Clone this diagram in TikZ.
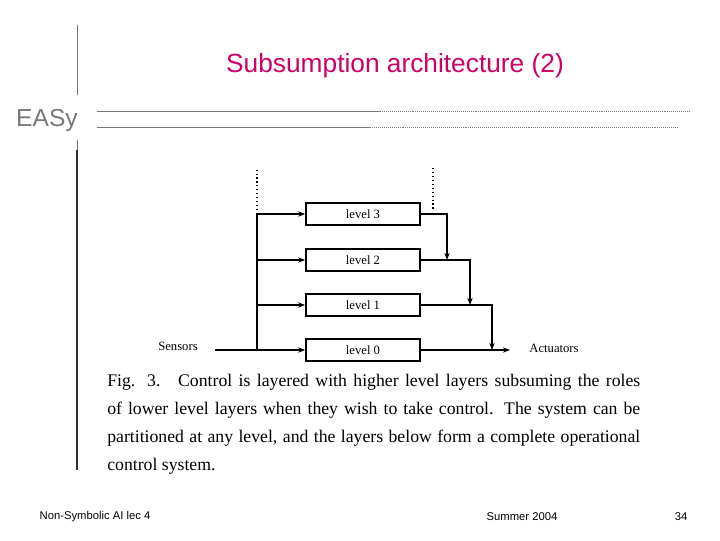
\documentclass[tikz,border=0pt]{standalone}
\usepackage{fontspec}
\setmainfont{Liberation Serif}
\newfontfamily\slidefont{Liberation Sans}
\usetikzlibrary{arrows.meta}
\definecolor{titlemag}{RGB}{204,0,102}
\definecolor{rulegray}{RGB}{120,120,120}
\newlength{\pxu}
\setlength{\pxu}{0.025cm}
\tikzset{
  level/.style={draw, very thick, minimum width=114\pxu, minimum height=22\pxu, inner sep=0pt, font=\small},
  flow/.style={thick, -{Stealth[length=5pt]}},
  wire/.style={thick}
}
\begin{document}
\begin{tikzpicture}[x=0.025cm, y=-0.025cm]
      \useasboundingbox (0,0) rectangle (720,540);

      % slide frame
      \draw[rulegray, thin] (77,25) -- (77,95);
      \draw[rulegray, thin] (77,140) -- (77,150);
      \draw[black!80, thick] (77,150) -- (77,470);
      \draw[rulegray, thin] (97,111) -- (380,111);
      \draw[rulegray, thin, densely dotted] (380,111) -- (690,111);
      \draw[rulegray, thin] (97,127) -- (370,127);
      \draw[rulegray, thin, densely dotted] (370,127) -- (678,127);
      \node (title) at (395,66) {\slidefont\fontsize{18.7}{22}\selectfont\color{titlemag}Subsumption architecture (2)};
      \node (easy) at (47,120) {\slidefont\fontsize{17.5}{20}\selectfont\color{rulegray}EASy};

      % layers
      \node[level] (L3) at (363,214) {level 3};
      \node[level] (L2) at (363,260) {level 2};
      \node[level] (L1) at (363,305) {level 1};
      \node[level] (L0) at (363,350) {level 0};
      \node[font=\small] (sens) at (178,346) {Sensors};
      \node[font=\small] (act) at (554,348) {Actuators};

      \coordinate (inS) at (215,350);
      \coordinate (bus) at (257,350);
      \coordinate (busT) at (257,214);
      \coordinate (top3) at (433,168);
      \coordinate (outA) at (510,350);

      \draw[wire] (inS) -- (bus);
      \draw[wire] (bus) -- (busT);
      \draw[thick, dotted] (busT) -- (257,168);
      \draw[thick, dotted] (top3) -- (433,210);
      \foreach \l in {L3,L2,L1,L0}{
        \draw[flow] (busT |- \l.west) -- (\l.west);
      }
      \draw[flow] (L3.east) -| (447,260);
      \draw[flow] (L2.east) -| (470,305);
      \draw[flow] (L1.east) -| (492,350);
      \draw[flow] (L0.east) -- (outA);

      % caption
      \node[anchor=north west, text width=533\pxu, align=justify, inner sep=0pt,
            font=\fontsize{12.6}{20}\selectfont] (cap) at (107,374)
        {Fig. 3.\quad Control is layered with higher level layers subsuming the roles of lower level layers when they wish to take control. The system can be partitioned at any level, and the layers below form a complete operational control system.};

      % footer
      \node[font=\slidefont\footnotesize] (foot1) at (95,517) {Non-Symbolic AI lec 4};
      \node[font=\slidefont\footnotesize] (foot2) at (522,517) {Summer 2004};
      \node[font=\slidefont\footnotesize] (foot3) at (681,517) {34};
\end{tikzpicture}
\end{document}
